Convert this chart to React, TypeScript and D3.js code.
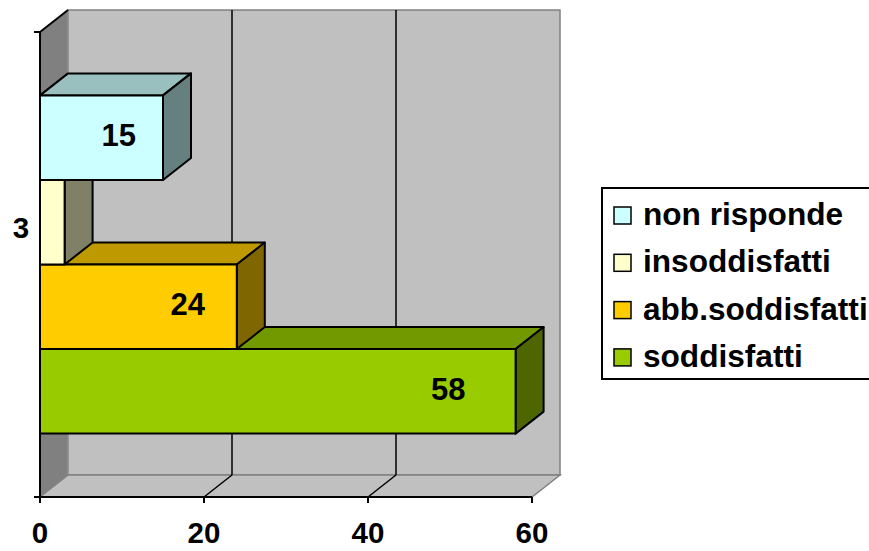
import React from "react";
import * as d3 from "d3";

const categories = ["3"];
const seriesNames = ["non risponde", "insoddisfatti", "abb.soddisfatti", "soddisfatti"];
const seriesValues = [15, 3, 24, 58];
const seriesColors = ["#CCFFFF", "#FFFFCC", "#FFCC00", "#99CC00"];
const xTicks = [0, 20, 40, 60];

const W = 869;
const H = 551;
const DX = 28;
const DY = -22;
const FONT = "'Liberation Sans', Arial, Helvetica, sans-serif";

export default function App() {
  const x = d3.scaleLinear().domain([0, 60]).range([40, 532]);
  const yCat = d3.scaleBand<string>().domain(categories).range([32, 497]).padding(0);
  const cat = categories[0];
  const y0 = yCat(cat) as number;
  const ySer = d3
    .scaleBand<string>()
    .domain(seriesNames)
    .range([y0, y0 + yCat.bandwidth()])
    .paddingInner(0)
    .paddingOuter(0.75);
  const labelX = d3.scaleLinear().domain([0, 60]).range([3.8, 463.5]);

  const [xl, xr] = x.range();
  const [yt, yb] = yCat.range();

  const pts = (arr: [number, number][]) => arr.map((p) => p.join(",")).join(" ");
  const darken = (c: string, k: number) => {
    const r = d3.rgb(c);
    return d3.rgb(r.r * k, r.g * k, r.b * k).formatHex();
  };

  const bars = seriesNames.map((name, i) => ({
    name,
    value: seriesValues[i],
    color: seriesColors[i],
    y: ySer(name) as number,
    h: ySer.bandwidth(),
  }));
  // draw from bottom to top so upper bars occlude lower ones
  const drawOrder = [...bars].reverse();

  return (
    <svg
      width={W}
      height={H}
      style={{ position: "absolute", left: 0, top: 0, background: "#fff" }}
      fontFamily={FONT}
    >
      <rect x={0} y={0} width={W} height={H} fill="#fff" />
      {/* back wall */}
      <polygon
        points={pts([
          [xl + DX, yt + DY],
          [xr + DX, yt + DY],
          [xr + DX, yb + DY],
          [xl + DX, yb + DY],
        ])}
        fill="#C0C0C0"
        stroke="#808080"
        strokeWidth={1.5}
      />
      {/* left wall */}
      <polygon
        points={pts([
          [xl, yt],
          [xl + DX, yt + DY],
          [xl + DX, yb + DY],
          [xl, yb],
        ])}
        fill="#808080"
        stroke="#999"
        strokeWidth={1}
      />
      {/* floor */}
      <polygon
        points={pts([
          [xl, yb],
          [xr, yb],
          [xr + DX, yb + DY],
          [xl + DX, yb + DY],
        ])}
        fill="#C0C0C0"
        stroke="#808080"
        strokeWidth={1.5}
      />
      {/* gridlines */}
      {xTicks
        .filter((t) => t > 0 && t < 60)
        .map((t) => (
          <g key={"g" + t} stroke="#000" strokeWidth={1.5}>
            <line x1={x(t) + DX} x2={x(t) + DX} y1={yt + DY} y2={yb + DY} />
            <line x1={x(t) + DX} x2={x(t)} y1={yb + DY} y2={yb} />
          </g>
        ))}
      {/* left wall top edge and axis lines */}
      <line x1={xl} y1={yt} x2={xl + DX} y2={yt + DY} stroke="#000" strokeWidth={2} />
      <line x1={xl} y1={yt} x2={xl} y2={yb} stroke="#000" strokeWidth={2} />
      <line x1={xl - 6} y1={yb} x2={xr} y2={yb} stroke="#000" strokeWidth={2} />
      <line x1={xl - 6} y1={yt} x2={xl} y2={yt} stroke="#000" strokeWidth={2} />
      {xTicks.map((t) => (
        <line key={"t" + t} x1={x(t)} x2={x(t)} y1={yb} y2={yb + 6} stroke="#000" strokeWidth={2} />
      ))}
      {/* bars */}
      {drawOrder.map((b) => {
        const x0 = x(0);
        const x1 = x(b.value);
        const top = b.y;
        const bot = b.y + b.h;
        return (
          <g key={b.name} stroke="#000" strokeWidth={2} strokeLinejoin="round">
            <polygon
              points={pts([
                [x0, top],
                [x1, top],
                [x1 + DX, top + DY],
                [x0 + DX, top + DY],
              ])}
              fill={darken(b.color, 0.75)}
            />
            <polygon
              points={pts([
                [x1, top],
                [x1 + DX, top + DY],
                [x1 + DX, bot + DY],
                [x1, bot],
              ])}
              fill={darken(b.color, 0.5)}
            />
            <rect x={x0} y={top} width={x1 - x0} height={b.h} fill={b.color} />
          </g>
        );
      })}
      {/* data labels */}
      {bars
        .filter((b) => b.value >= 10)
        .map((b) => (
          <text
            key={"l" + b.name}
            x={labelX(b.value)}
            y={b.y + b.h / 2 + 8.5}
            textAnchor="middle"
            fontSize={31}
            fontWeight="bold"
            fill="#000"
          >
            {b.value}
          </text>
        ))}
      {/* x tick labels */}
      {xTicks.map((t) => (
        <text
          key={"xl" + t}
          x={x(t)}
          y={543}
          textAnchor="middle"
          fontSize={29.5}
          fontWeight="bold"
          fill="#000"
        >
          {t}
        </text>
      ))}
      {/* category label */}
      <text x={21} y={238} textAnchor="middle" fontSize={29.5} fontWeight="bold" fill="#000">
        {cat}
      </text>
      {/* legend */}
      <rect x={602} y={188} width={270} height={191} fill="#fff" stroke="#000" strokeWidth={2} />
      {seriesNames.map((name, i) => {
        const base = 225 + i * 47.3;
        return (
          <g key={"lg" + name}>
            <rect
              x={614}
              y={base - 18}
              width={17}
              height={17}
              fill={seriesColors[i]}
              stroke="#000"
              strokeWidth={1.5}
            />
            <text x={643} y={base} fontSize={31.6} fontWeight="bold" fill="#000">
              {name}
            </text>
          </g>
        );
      })}
    </svg>
  );
}
